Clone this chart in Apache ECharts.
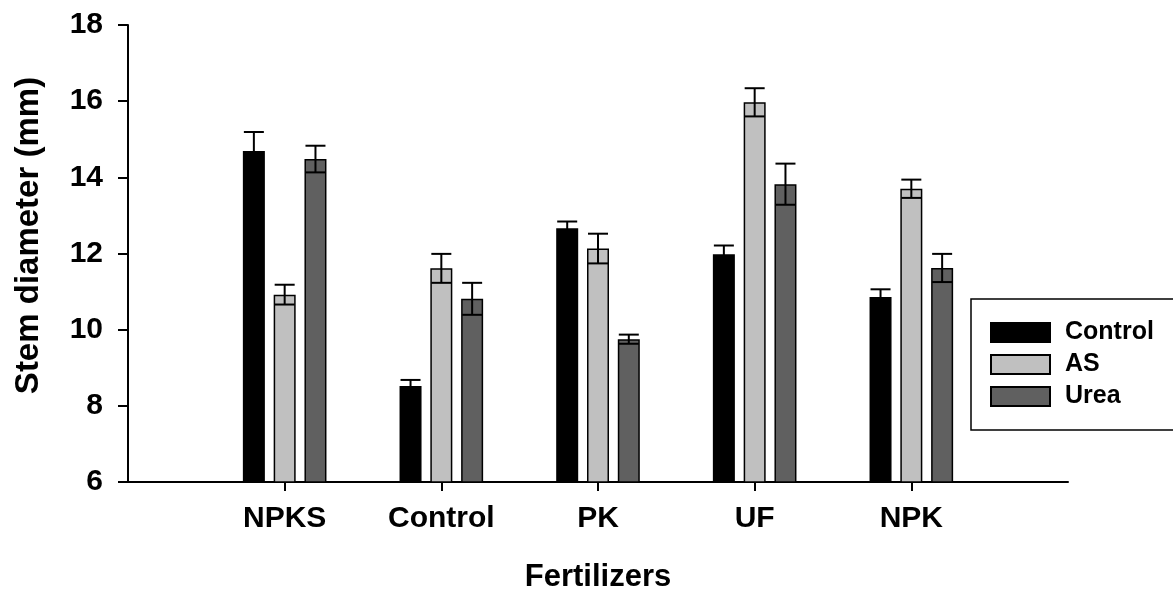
<!DOCTYPE html>
<html>
<head>
<meta charset="utf-8">
<script src="https://cdn.jsdelivr.net/npm/echarts@6/dist/echarts.min.js"></script>
<style>
html, body { margin: 0; padding: 0; background: #fff; }
#chart { width: 1173px; height: 589px; }
</style>
</head>
<body>
<div id="chart"></div>
<script>
// categories (empty slots at both ends keep the axis running past the groups)
var fertilizers = ['', 'NPKS', 'Control', 'PK', 'UF', 'NPK', ''];
var seriesNames = ['Control', 'AS', 'Urea'];

// mean stem diameter (mm)
var controlVals = ['-', 14.69, 8.52, 12.66, 11.98, 10.86, '-'];
var asVals      = ['-', 10.92, 11.61, 12.13, 15.97, 13.70, '-'];
var ureaVals    = ['-', 14.48, 10.81, 9.75, 13.82, 11.62, '-'];

// standard errors
var controlErr = [0, 0.50, 0.16, 0.18, 0.23, 0.20, 0];
var asErr      = [0, 0.26, 0.38, 0.39, 0.37, 0.24, 0];
var ureaErr    = [0, 0.35, 0.42, 0.12, 0.54, 0.37, 0];

var yTicks = [6, 8, 10, 12, 14, 16, 18];

var colors = ['#000000', '#c0c0c0', '#606060'];
var font = "'Liberation Sans', Arial, sans-serif";
var barW = 22;
var gapPct = 0.4;

function errData(vals, errs) {
	var out = [];
	for (var i = 0; i < vals.length; i++) {
		if (vals[i] !== '-') out.push([i, vals[i], errs[i]]);
	}
	return out;
}

function errSeries(k, vals, errs) {
	return {
		type: 'custom',
		name: seriesNames[k] + ' err',
		z: 5,
		silent: true,
		data: errData(vals, errs),
		renderItem: function (params, api) {
			var shift = (k - 1) * barW * (1 + gapPct);
			var hi = api.coord([api.value(0), api.value(1) + api.value(2)]);
			var lo = api.coord([api.value(0), api.value(1) - api.value(2)]);
			var x = hi[0] + shift;
			var cap = 10;
			var st = { stroke: '#000', lineWidth: 2 };
			return {
				type: 'group',
				children: [
					{ type: 'line', shape: { x1: x, y1: hi[1], x2: x, y2: lo[1] }, style: st },
					{ type: 'line', shape: { x1: x - cap, y1: hi[1], x2: x + cap, y2: hi[1] }, style: st },
					{ type: 'line', shape: { x1: x - cap, y1: lo[1], x2: x + cap, y2: lo[1] }, style: st }
				]
			};
		}
	};
}

function barSeries(k, vals) {
	return {
		type: 'bar',
		name: seriesNames[k],
		data: vals,
		barWidth: barW,
		barGap: (gapPct * 100) + '%',
		itemStyle: { color: colors[k], borderColor: '#000', borderWidth: 1.5 }
	};
}

var chart = echarts.init(document.getElementById('chart'));
var option = {
	animation: false,
	backgroundColor: '#fff',
	grid: { left: 128, right: 105, top: 25, bottom: 107, outerBoundsMode: 'none', containLabel: false },
	legend: {
		data: seriesNames,
		orient: 'vertical',
		left: 971,
		top: 299,
		padding: [21, 60, 21, 19],
		icon: 'rect',
		itemWidth: 59,
		itemHeight: 19,
		itemGap: 7,
		borderColor: '#000',
		borderWidth: 1.5,
		backgroundColor: '#fff',
		selectedMode: false,
		textStyle: { fontFamily: font, fontWeight: 'bold', fontSize: 25, color: '#000', lineHeight: 19, padding: [0, 0, 0, 10] }
	},
	xAxis: {
		type: 'category',
		data: fertilizers,
		boundaryGap: false,
		name: 'Fertilizers',
		nameLocation: 'middle',
		nameGap: 80,
		nameTextStyle: { fontFamily: font, fontWeight: 'bold', fontSize: 31, color: '#000' },
		axisLine: { lineStyle: { color: '#000', width: 2 } },
		axisTick: {
			length: 9,
			lineStyle: { color: '#000', width: 2 },
			interval: function (idx, val) { return val !== ''; }
		},
		axisLabel: {
			interval: 0,
			margin: 22,
			fontFamily: font, fontWeight: 'bold', fontSize: 30, color: '#000'
		},
		splitLine: { show: false }
	},
	yAxis: {
		type: 'value',
		min: yTicks[0],
		max: yTicks[yTicks.length - 1],
		interval: 2,
		name: 'Stem diameter (mm)',
		nameLocation: 'middle',
		nameGap: 83,
		nameTextStyle: { fontFamily: font, fontWeight: 'bold', fontSize: 33, color: '#000', padding: [0, 0, 0, 36] },
		axisLine: { show: true, lineStyle: { color: '#000', width: 2 } },
		axisTick: { show: true, length: 10, lineStyle: { color: '#000', width: 2 } },
		axisLabel: { margin: 25, fontFamily: font, fontWeight: 'bold', fontSize: 30, color: '#000' },
		splitLine: { show: false }
	},
	series: [
		barSeries(0, controlVals),
		barSeries(1, asVals),
		barSeries(2, ureaVals),
		errSeries(0, controlVals, controlErr),
		errSeries(1, asVals, asErr),
		errSeries(2, ureaVals, ureaErr)
	]
};
chart.setOption(option);
</script>
</body>
</html>
